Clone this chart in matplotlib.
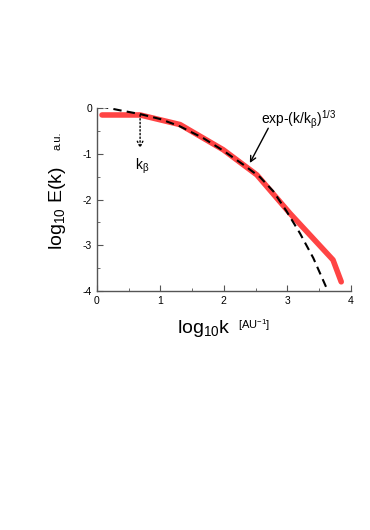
import matplotlib
matplotlib.use("Agg")
import matplotlib.pyplot as plt
from matplotlib.ticker import MultipleLocator

plt.rcParams['font.family'] = ['Liberation Sans', 'DejaVu Sans']
plt.rcParams['mathtext.fontset'] = 'custom'
plt.rcParams['mathtext.rm'] = 'Liberation Sans'
plt.rcParams['mathtext.it'] = 'Liberation Sans'
plt.rcParams['mathtext.default'] = 'regular'
plt.rcParams['axes.unicode_minus'] = False

# measured spectrum (red)
meas_x = [0.08, 0.68, 1.31, 1.99, 2.52, 3.04, 3.72, 3.85]
meas_y = [-0.15, -0.15, -0.36, -0.91, -1.46, -2.30, -3.32, -3.80]

# stretched exponential fit (dashed)
fit_x = [0.05, 0.37, 0.68, 1.00, 1.31, 1.68, 1.99, 2.31, 2.57, 2.78, 2.99, 3.20, 3.41, 3.62]
fit_y = [0.04, -0.05, -0.13, -0.24, -0.40, -0.66, -0.93, -1.24, -1.51, -1.82, -2.26, -2.74, -3.28, -3.94]

k_beta = 0.68

fig = plt.figure(figsize=(3.7, 5.3), dpi=100)
ax = fig.add_axes([0.262, 0.451, 0.686, 0.345])

ax.plot(meas_x, meas_y, color='#ff4444', lw=4.0, solid_capstyle='round', zorder=2)
ax.plot(fit_x, fit_y, color='black', lw=1.5, dashes=(4, 2.5), zorder=3)

ax.set_xlim(0, 4)
ax.set_ylim(-4, 0)
ax.xaxis.set_major_locator(MultipleLocator(1))
ax.xaxis.set_minor_locator(MultipleLocator(0.5))
ax.yaxis.set_major_locator(MultipleLocator(1))
ax.yaxis.set_minor_locator(MultipleLocator(0.5))
for s in ['top', 'right']:
    ax.spines[s].set_visible(False)
for s in ['left', 'bottom']:
    ax.spines[s].set_color('#555555')
    ax.spines[s].set_linewidth(1.0)
ax.tick_params(which='both', direction='in', colors='#555555', labelcolor='black', labelsize=7.5)
ax.tick_params(which='major', length=4)
ax.tick_params(which='minor', length=2.5)

# k_beta dotted arrow
ax.annotate('', xy=(k_beta, -0.88), xytext=(k_beta, -0.15),
            arrowprops=dict(arrowstyle='->', color='black', lw=1.0, linestyle=':',
                            shrinkA=0, shrinkB=0))
ax.text(0.71, -1.28, r'k$_\beta$', ha='center', va='center', fontsize=10)

# fit label arrow
ax.annotate('', xy=(2.41, -1.20), xytext=(2.70, -0.44),
            arrowprops=dict(arrowstyle='->', color='black', lw=1.0, shrinkA=0, shrinkB=0))
ax.text(2.58, -0.25, r'exp-(k/k$_\beta$)$^{1/3}$', ha='left', va='center', fontsize=10)

fig.text(0.155, 0.608, r'log$_{10}$ E(k)', rotation=90, ha='center', va='center', fontsize=14)
fig.text(0.155, 0.734, 'a.u.', rotation=90, ha='center', va='center', fontsize=8)
fig.text(0.552, 0.381, r'log$_{10}$k', ha='center', va='center', fontsize=14)
fig.text(0.686, 0.386, r'[AU$^{-1}$]', ha='center', va='center', fontsize=8)

fig.savefig('out.png', dpi=100)
